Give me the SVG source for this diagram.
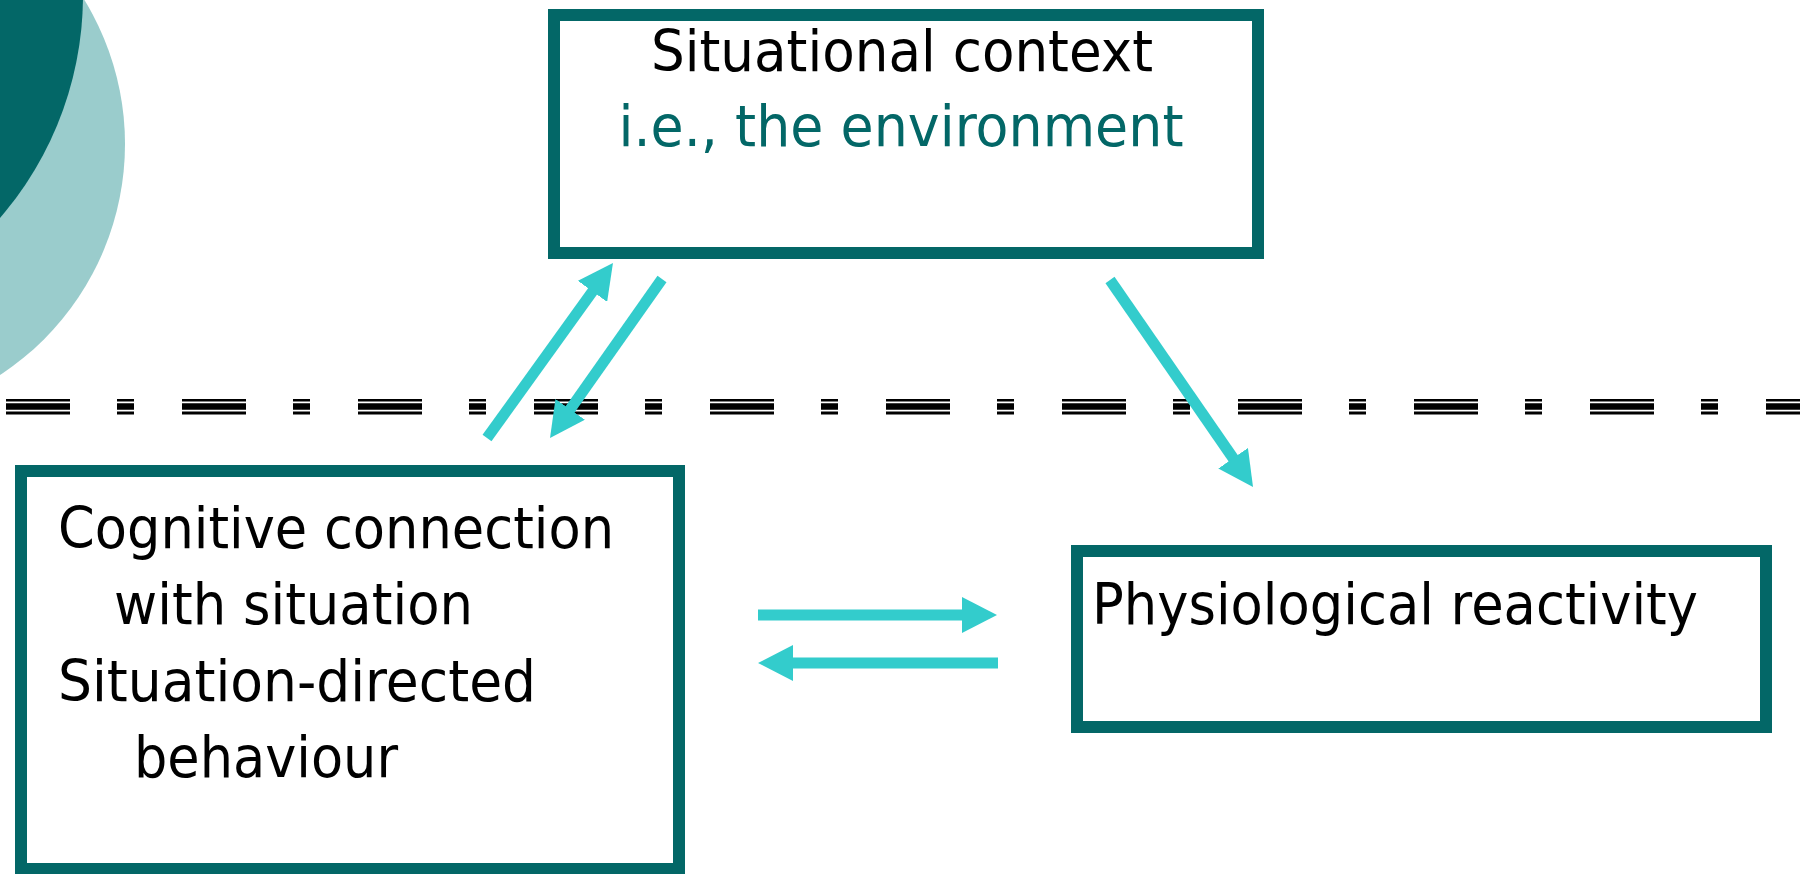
<svg xmlns="http://www.w3.org/2000/svg" width="1808" height="874" viewBox="0 0 1808 874">
  <style>
    .box { fill: #ffffff; stroke: #036767; stroke-width: 12; }
    .t { font-family: "DejaVu Sans", "Liberation Sans", sans-serif; font-size: 57px; fill: #000000; }
    .teal { fill: #036767; }
    .arrow { stroke: #33CCCC; stroke-width: 11; fill: none; marker-end: url(#head); }
    .sep { fill: none; stroke: #000000; stroke-dasharray: 64 47 17 48; }
  </style>
  <defs>
    <marker id="head" viewBox="0 0 35 36" refX="1" refY="18" markerWidth="35" markerHeight="36" markerUnits="userSpaceOnUse" orient="auto">
      <path d="M0,0 L35,18 L0,36 z" fill="#33CCCC"/>
    </marker>
  </defs>
  <rect width="1808" height="874" fill="#ffffff"/>
  <g id="decor">
    <circle cx="-151" cy="144" r="276" fill="#9ACCCC"/>
    <circle cx="-258" cy="-5" r="341" fill="#036767"/>
  </g>
  <g id="separator">
    <line class="sep" x1="6" y1="400.3" x2="1800" y2="400.3" stroke-width="2.4"/>
    <line class="sep" x1="6" y1="406.5" x2="1800" y2="406.5" stroke-width="6.4"/>
    <line class="sep" x1="6" y1="413" x2="1800" y2="413" stroke-width="2.8"/>
  </g>
  <g id="situational-context">
    <rect class="box" x="554" y="15" width="704" height="238"/>
    <text class="t" x="902" y="71" text-anchor="middle" textLength="502" lengthAdjust="spacingAndGlyphs">Situational context</text>
    <text class="t teal" x="901" y="146" text-anchor="middle" textLength="565" lengthAdjust="spacingAndGlyphs">i.e., the environment</text>
  </g>
  <g id="cognitive">
    <rect class="box" x="21" y="471" width="658" height="398"/>
    <text class="t" x="58" y="548" textLength="556" lengthAdjust="spacingAndGlyphs">Cognitive connection</text>
    <text class="t" x="114" y="624" textLength="359" lengthAdjust="spacingAndGlyphs">with situation</text>
    <text class="t" x="58" y="701" textLength="478" lengthAdjust="spacingAndGlyphs">Situation-directed</text>
    <text class="t" x="134" y="777" textLength="264" lengthAdjust="spacingAndGlyphs">behaviour</text>
  </g>
  <g id="physiological">
    <rect class="box" x="1077" y="551" width="689" height="176"/>
    <text class="t" x="1092" y="624" textLength="606" lengthAdjust="spacingAndGlyphs">Physiological reactivity</text>
  </g>
  <g id="connectors">
    <line class="arrow" x1="487" y1="438" x2="593.1" y2="290.6"/>
    <line class="arrow" x1="662" y1="279" x2="569.6" y2="410.2"/>
    <line class="arrow" x1="1110" y1="280" x2="1233.7" y2="459"/>
    <line class="arrow" x1="758" y1="615" x2="963" y2="615"/>
    <line class="arrow" x1="998" y1="663" x2="792" y2="663"/>
  </g>
</svg>
